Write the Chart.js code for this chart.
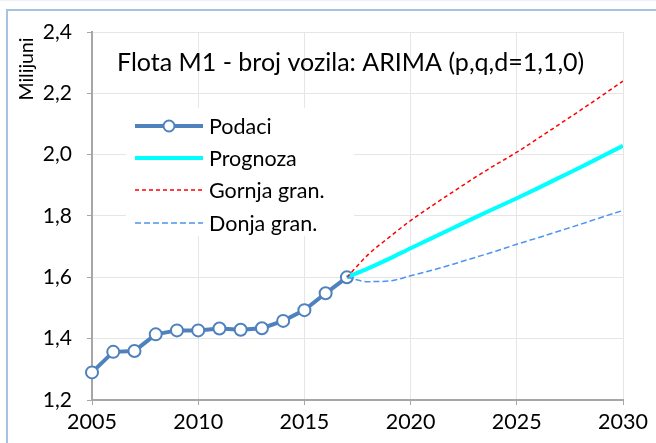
<!DOCTYPE html>
<html>
<head>
<meta charset="utf-8">
<script src="https://cdn.jsdelivr.net/npm/chart.js@4/dist/chart.umd.min.js"></script>
<style>
  html, body { margin: 0; padding: 0; background: #fff; }
  #wrap { position: relative; width: 656px; height: 443px; }
</style>
</head>
<body>
<div id="wrap"><canvas id="c" width="656" height="443"></canvas></div>
<script>
// Registered vehicle fleet, category M1 (millions)
const dataYears = [2005, 2006, 2007, 2008, 2009, 2010, 2011, 2012, 2013, 2014, 2015, 2016, 2017];
const podaci = [1.290, 1.357, 1.360, 1.414, 1.427, 1.427, 1.433, 1.429, 1.434, 1.458, 1.493, 1.548, 1.600];

// ARIMA forecast with upper / lower bounds
const forecastYears = [2017, 2018, 2019, 2020, 2021, 2022, 2023, 2024, 2025, 2026, 2027, 2028, 2029, 2030];
const prognoza = [1.600, 1.629, 1.661, 1.695, 1.728, 1.761, 1.794, 1.826, 1.858, 1.891, 1.925, 1.959, 1.994, 2.029];
const gornja   = [1.600, 1.674, 1.731, 1.785, 1.833, 1.879, 1.924, 1.967, 2.008, 2.053, 2.099, 2.145, 2.192, 2.240];
const donja    = [1.600, 1.586, 1.588, 1.605, 1.623, 1.643, 1.664, 1.685, 1.708, 1.729, 1.751, 1.773, 1.796, 1.818];

const xTicks = [2005, 2010, 2015, 2020, 2025, 2030];
const yTicks = [1.2, 1.4, 1.6, 1.8, 2.0, 2.2, 2.4];

const titleText = 'Flota M1 - broj vozila: ARIMA (p,q,d=1,1,0)';
const yTitle = 'Milijuni';
const seriesNames = ['Podaci', 'Prognoza', 'Gornja gran.', 'Donja gran.'];

const FONT = 'Lato, "Open Sans", sans-serif';
const C_DATA = '#4f81bd';
const C_FC = '#00ffff';
const C_UP = '#ff0000';
const C_LO = '#4b95f0';

const pts = (xs, ys) => xs.map((x, i) => ({ x, y: ys[i] }));

// frame, title, axis title and in-plot legend
const decor = {
  id: 'decor',
  beforeDraw(chart) {
    const ctx = chart.ctx;
    ctx.save();
    ctx.fillStyle = '#fff';
    ctx.fillRect(0, 0, chart.width, chart.height);
    ctx.strokeStyle = '#eef2f8';
    ctx.lineWidth = 1;
    ctx.beginPath(); ctx.moveTo(0, 0.5); ctx.lineTo(chart.width, 0.5); ctx.stroke();
    ctx.strokeStyle = '#a9c2e2';
    ctx.lineWidth = 2;
    ctx.beginPath();
    ctx.moveTo(7, chart.height + 2);
    ctx.lineTo(7, 10);
    ctx.lineTo(chart.width + 2, 10);
    ctx.stroke();
    ctx.restore();
  },
  afterDraw(chart) {
    const ctx = chart.ctx;
    ctx.save();
    // axis title
    ctx.fillStyle = '#000';
    ctx.font = '19.5px ' + FONT;
    ctx.translate(27, 69);
    ctx.rotate(-Math.PI / 2);
    ctx.textAlign = 'center';
    ctx.textBaseline = 'middle';
    ctx.fillText(yTitle, 0, 0);
    ctx.restore();

    ctx.save();
    ctx.fillStyle = '#000';
    ctx.font = '25px ' + FONT;
    ctx.textAlign = 'left';
    ctx.textBaseline = 'middle';
    ctx.fillText(titleText, 117, 63);
    ctx.restore();
  },
  afterDatasetsDraw(chart) {
    const ctx = chart.ctx;
    ctx.save();
    ctx.fillStyle = '#fff';
    ctx.fillRect(126, 108, 228, 128);
    const x0 = 135, x1 = 203, tx = 209;
    const rows = [126, 158, 190, 223];
    const styles = [
      { c: C_DATA, w: 4, dash: [], marker: true },
      { c: C_FC, w: 4, dash: [] },
      { c: C_UP, w: 1.5, dash: [4, 3] },
      { c: C_LO, w: 1.5, dash: [6, 3] }
    ];
    rows.forEach((y, i) => {
      const s = styles[i];
      ctx.strokeStyle = s.c;
      ctx.lineWidth = s.w;
      ctx.setLineDash(s.dash);
      ctx.beginPath(); ctx.moveTo(x0, y); ctx.lineTo(x1, y); ctx.stroke();
      ctx.setLineDash([]);
      if (s.marker) {
        ctx.fillStyle = '#fff';
        ctx.lineWidth = 2;
        ctx.beginPath(); ctx.arc((x0 + x1) / 2, y, 5.5, 0, Math.PI * 2);
        ctx.fill(); ctx.stroke();
      }
      ctx.fillStyle = '#000';
      ctx.font = '21.5px ' + FONT;
      ctx.textAlign = 'left';
      ctx.textBaseline = 'middle';
      ctx.fillText(seriesNames[i], tx, y + 1);
    });
    ctx.restore();
  }
};

new Chart(document.getElementById('c'), {
  type: 'line',
  data: {
    datasets: [
      { label: seriesNames[3], data: pts(forecastYears, donja), borderColor: C_LO, borderWidth: 1.5,
        borderDash: [6, 3], pointRadius: 0, cubicInterpolationMode: 'monotone', order: 1 },
      { label: seriesNames[2], data: pts(forecastYears, gornja), borderColor: C_UP, borderWidth: 1.5,
        borderDash: [4, 3], pointRadius: 0, cubicInterpolationMode: 'monotone', order: 2 },
      { label: seriesNames[1], data: pts(forecastYears, prognoza), borderColor: C_FC, borderWidth: 4,
        pointRadius: 0, cubicInterpolationMode: 'monotone', order: 3 },
      { label: seriesNames[0], data: pts(dataYears, podaci), borderColor: C_DATA, borderWidth: 4,
        pointRadius: 6, pointBorderWidth: 2, pointBackgroundColor: '#fff', pointBorderColor: C_DATA,
        tension: 0, clip: false, order: 4 }
    ]
  },
  options: {
    responsive: false,
    animation: false,
    events: [],
    layout: { padding: { top: 32, right: 33, left: 0, bottom: 0 } },
    plugins: { legend: { display: false }, tooltip: { enabled: false }, title: { display: false } },
    scales: {
      x: {
        type: 'linear',
        min: 2005, max: 2030,
        afterBuildTicks(s) { s.ticks = xTicks.map(v => ({ value: v })); },
        afterFit(s) { s.height = 43; },
        grid: { color: '#e6e6e6', lineWidth: 1, tickLength: 5, tickColor: '#a6a6a6', drawTicks: true },
        border: { color: '#a6a6a6', width: 2 },
        ticks: { color: '#000', font: { family: FONT, size: 21.5 }, padding: 4, maxRotation: 0,
                 callback: v => String(v) }
      },
      y: {
        min: 1.2, max: 2.4,
        afterBuildTicks(s) { s.ticks = yTicks.map(v => ({ value: v })); },
        afterFit(s) { s.width = 92; },
        grid: { color: '#e6e6e6', lineWidth: 1, tickLength: 5, tickColor: '#a6a6a6', drawTicks: true },
        border: { color: '#a6a6a6', width: 2 },
        ticks: { color: '#000', font: { family: FONT, size: 21 }, padding: 15,
                 callback: v => Number(v).toFixed(1).replace('.', ',') }
      }
    }
  },
  plugins: [decor]
});
</script>
</body>
</html>
